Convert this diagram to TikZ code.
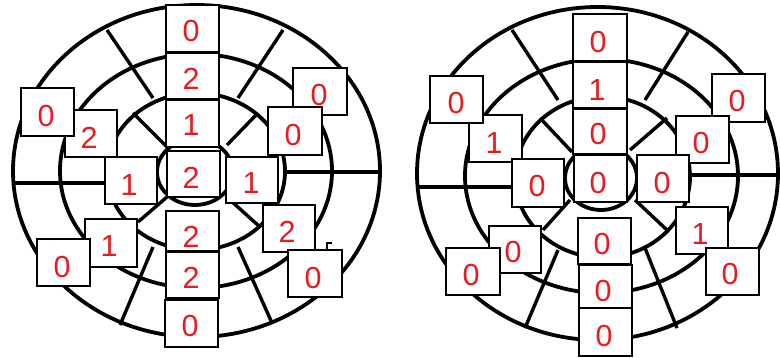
\documentclass[tikz,border=0pt]{standalone}
\usepackage{fontspec}
\setmainfont{Liberation Sans}
\usetikzlibrary{fit}
\definecolor{numred}{RGB}{232,28,32}
\newcommand\numbox[8]{%
  \node[boxst, fit={(#2,#3) (#4,#5)}] (#1) {};
  \node[digit] (#1d) at (#6,#7) {#8};
}
\begin{document}
\begin{tikzpicture}[x=1pt,y=-1pt,
  ring/.style={line width=3.8pt},
  spoke/.style={line width=3.4pt},
  boxst/.style={draw=black, fill=white, line width=1.7pt, inner sep=0pt, rectangle},
  digit/.style={text=numred, inner sep=0pt, font=\fontsize{30.5}{30.5}\selectfont}]
\useasboundingbox (0,0) rectangle (780,358);
\fill[white] (0,0) rectangle (780,358);

% ---------- left diagram ----------
\draw[ring] (196.5,171) ellipse [x radius=183.5, y radius=166];
\draw[ring] (196,171) ellipse [x radius=136, y radius=117];
\draw[ring] (196,171.5) ellipse [x radius=89, y radius=78.5];
\draw[ring] (195,172) ellipse [x radius=38, y radius=33];
\draw[spoke] (133,113) -- (167,147);
\draw[spoke] (258,113) -- (227,145);
\draw[spoke] (138,222) -- (167,197);
\draw[spoke] (260,227) -- (230,200);
\draw[spoke] (107,30) -- (153,98);
\draw[spoke] (283,30) -- (238,98);
\draw[spoke] (120,325) -- (153,247);
\draw[spoke] (272,323) -- (238,247);
\draw[spoke] (13,183) -- (108,183);
\draw[spoke] (284,172) -- (378,172);
\draw[line width=1.5pt] (327,249) -- (327,243) -- (332,243);

\numbox{La}{166}{5}{219}{52}{191}{31}{0}
\numbox{Lb}{166}{53}{219}{99}{191}{79}{2}
\numbox{Lc}{166}{100}{219}{147}{191}{125}{1}
\numbox{Ld}{167}{151}{220}{197}{191}{178}{2}
\numbox{Le}{166}{211}{219}{251}{191}{237}{2}
\numbox{Lf}{166}{252}{219}{298}{191}{278}{2}
\numbox{Lg}{165}{300}{218}{347}{190}{326}{0}
\numbox{Lh}{65}{110}{117}{157}{89}{138}{2}
\numbox{Li}{21}{88}{74}{136}{46}{116}{0}
\numbox{Lj}{105}{157}{157}{204}{129}{185}{1}
\numbox{Lk}{85}{219}{137}{267}{109}{246}{1}
\numbox{Ll}{37}{239}{90}{286}{62}{267}{0}
\numbox{Lm}{293}{68}{347}{115}{319}{95}{0}
\numbox{Ln}{268}{107}{322}{155}{293}{135}{0}
\numbox{Lo}{226}{157}{278}{203}{251}{183}{1}
\numbox{Lp}{263}{205}{315}{252}{287}{232}{2}
\numbox{Lq}{288}{250}{342}{297}{313}{278}{0}

% ---------- right diagram ----------
\draw[ring] (597.5,173.5) ellipse [x radius=180.5, y radius=166.5];
\draw[ring] (601.5,176) ellipse [x radius=136.5, y radius=117];
\draw[ring] (602.5,177) ellipse [x radius=87.5, y radius=80.5];
\draw[ring] (601,178) ellipse [x radius=36, y radius=32];
\draw[spoke] (540,118) -- (572,152);
\draw[spoke] (667,118) -- (630,150);
\draw[spoke] (543,230) -- (570,200);
\draw[spoke] (667,230) -- (635,200);
\draw[spoke] (512,30) -- (558,100);
\draw[spoke] (688,32) -- (645,100);
\draw[spoke] (525,328) -- (558,250);
\draw[spoke] (677,328) -- (645,248);
\draw[spoke] (418,187) -- (515,187);
\draw[spoke] (690,175) -- (780,175);

\numbox{Ra}{573}{14}{627}{61}{598}{42}{0}
\numbox{Rb}{573}{62}{627}{108}{597}{90}{1}
\numbox{Rc}{573}{109}{627}{154}{598}{134}{0}
\numbox{Rd}{574}{155}{627}{202}{598}{183}{0}
\numbox{Re}{578}{218}{631}{264}{602}{244}{0}
\numbox{Rf}{579}{265}{632}{308}{603}{291}{0}
\numbox{Rg}{579}{308}{632}{356}{604}{336}{0}
\numbox{Rh}{469}{115}{522}{162}{494}{143}{1}
\numbox{Ri}{430}{76}{483}{123}{456}{103}{0}
\numbox{Rj}{512}{159}{564}{207}{537}{186}{0}
\numbox{Rk}{489}{226}{541}{273}{513}{252}{0}
\numbox{Rl}{446}{248}{500}{295}{471}{275}{0}
\numbox{Rm}{712}{74}{765}{122}{737}{101}{0}
\numbox{Rn}{676}{116}{729}{163}{701}{143}{0}
\numbox{Ro}{637}{155}{689}{202}{662}{183}{0}
\numbox{Rp}{676}{207}{728}{254}{700}{234}{1}
\numbox{Rq}{706}{248}{759}{295}{730}{274}{0}
\end{tikzpicture}
\end{document}
